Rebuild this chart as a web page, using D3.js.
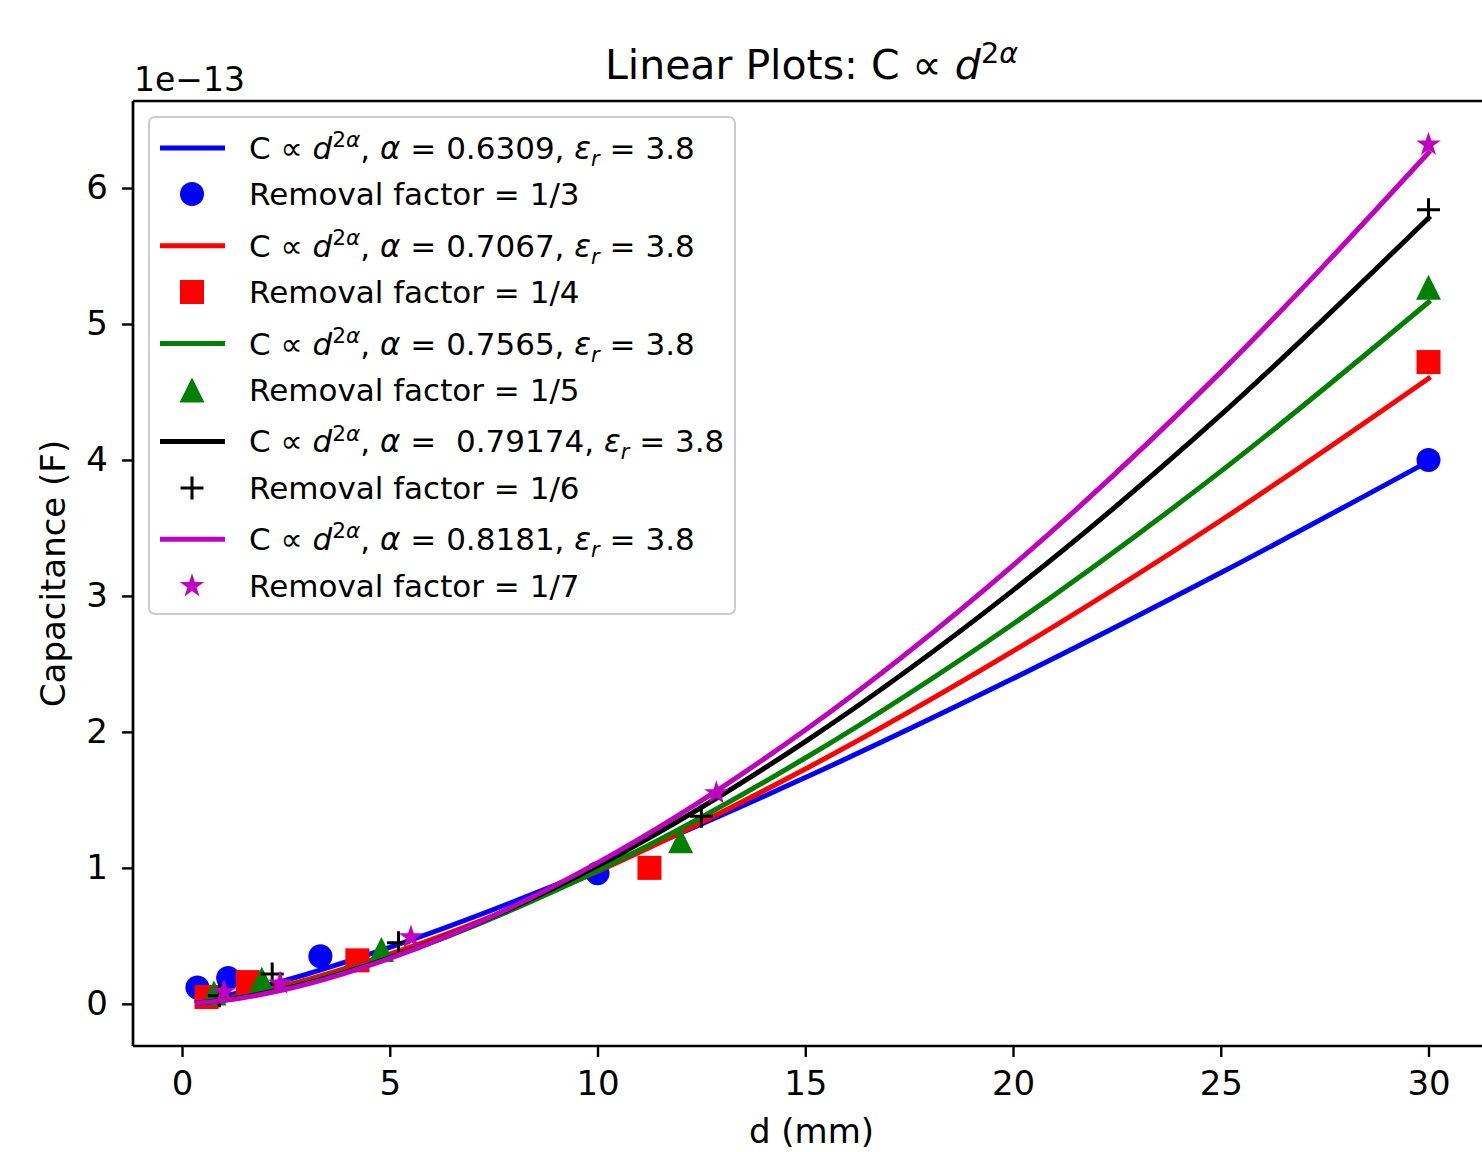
<!DOCTYPE html>
<html>
<head>
<meta charset="utf-8">
<script src="https://cdn.jsdelivr.net/npm/d3@7"></script>
<style>
  body { margin: 0; background: #fff; }
  svg { font-family: "DejaVu Sans", sans-serif; }
</style>
</head>
<body>
<div id="chart"></div>
<script>
const W = 1482, H = 1152;

const dGrid = [0.37, 1, 2.5, 5, 10, 15, 20, 25, 30];
const fit3 = [0.016, 0.055, 0.174, 0.416, 0.998, 1.664, 2.392, 3.170, 3.99];
const fit4 = [0.009, 0.038, 0.137, 0.366, 0.974, 1.727, 2.594, 3.555, 4.60];
const fit5 = [0.007, 0.030, 0.120, 0.343, 0.979, 1.808, 2.794, 3.916, 5.16];
const fit6 = [0.006, 0.027, 0.113, 0.339, 1.015, 1.929, 3.041, 4.331, 5.78];
const fit7 = [0.005, 0.024, 0.107, 0.334, 1.037, 2.014, 3.225, 4.646, 6.26];

// measured points (d in mm, C in units of 1e-13 F)
const d3pts = [0.37, 1.11, 3.33, 10, 30];
const c3pts = [0.12, 0.19, 0.35, 0.96, 4.00];
const d4pts = [0.59, 1.58, 4.22, 11.25, 30];
const c4pts = [0.05, 0.16, 0.32, 1.00, 4.72];
const d5pts = [0.77, 1.92, 4.8, 12, 30];
const c5pts = [0.08, 0.18, 0.40, 1.20, 5.27];
const d6pts = [0.90, 2.17, 5.21, 12.5, 30];
const c6pts = [0.06, 0.22, 0.45, 1.38, 5.84];
const d7pts = [1.01, 2.36, 5.51, 12.86, 30];
const c7pts = [0.09, 0.15, 0.49, 1.55, 6.32];

const alphas = ["0.6309", "0.7067", "0.7565", "\u00a00.79174", "0.8181"];
const factors = ["1/3", "1/4", "1/5", "1/6", "1/7"];
const colors = ["#0000ff", "#ff0000", "#008000", "#000000", "#bf00bf"];
const markers = ["circle", "square", "triangle", "plus", "star"];

const xTicks = [0, 5, 10, 15, 20, 25, 30];
const yTicks = [0, 1, 2, 3, 4, 5, 6];

const series = [
  { fit: fit3, d: d3pts, c: c3pts },
  { fit: fit4, d: d4pts, c: c4pts },
  { fit: fit5, d: d5pts, c: c5pts },
  { fit: fit6, d: d6pts, c: c6pts },
  { fit: fit7, d: d7pts, c: c7pts }
];

const axL = 133, axR = 1490, axT = 101, axB = 1046;

const x = d3.scaleLinear().domain([-1.18, 31.48]).range([axL, axR]);
const y = d3.scaleLinear().domain([-0.31, 6.64]).range([axB, axT]);

const svg = d3.select('#chart').append('svg')
  .attr('width', W).attr('height', H);

svg.append('rect').attr('width', W).attr('height', H).attr('fill', '#fff');

const plot = svg.append('g');

// marker drawing
function drawMarker(g, type, color) {
  if (type === 'circle') {
    g.append('circle').attr('r', 12).attr('fill', color);
  } else if (type === 'square') {
    g.append('rect').attr('x', -12).attr('y', -12).attr('width', 24).attr('height', 24).attr('fill', color);
  } else if (type === 'triangle') {
    g.append('path').attr('d', 'M0,-12.5L12.5,12.5L-12.5,12.5Z').attr('fill', color);
  } else if (type === 'plus') {
    g.append('path').attr('d', 'M-11.5,0H11.5M0,-11.5V11.5').attr('stroke', color).attr('stroke-width', 3).attr('fill', 'none');
  } else if (type === 'star') {
    g.append('path').attr('d', d3.symbol(d3.symbolStar, 185)()).attr('fill', color);
  }
}

const line = d3.line()
  .x(d => x(d[0]))
  .y(d => y(d[1]))
  .curve(d3.curveMonotoneX);

series.forEach((s, i) => {
  plot.append('path')
    .attr('d', line(dGrid.map((d, k) => [d, s.fit[k]])))
    .attr('fill', 'none')
    .attr('stroke', colors[i])
    .attr('stroke-width', 5)
    .attr('stroke-linecap', 'square');

  s.d.forEach((d, k) => {
    const g = plot.append('g').attr('transform', `translate(${x(d)},${y(s.c[k])})`);
    drawMarker(g, markers[i], colors[i]);
  });
});

// axes frame
const frame = svg.append('g').attr('stroke', '#000').attr('stroke-width', 2.7).attr('fill', 'none');
frame.append('line').attr('x1', axL).attr('x2', axL).attr('y1', axT).attr('y2', axB);
frame.append('line').attr('x1', axL).attr('x2', axR).attr('y1', axB).attr('y2', axB);
frame.append('line').attr('x1', axL).attr('x2', axR).attr('y1', axT).attr('y2', axT);
frame.append('line').attr('x1', axR).attr('x2', axR).attr('y1', axT).attr('y2', axB);

const xAxis = svg.append('g')
  .attr('transform', `translate(0,${axB})`)
  .call(d3.axisBottom(x).tickValues(xTicks).tickSize(11).tickPadding(14).tickFormat(d3.format('d')));
const yAxis = svg.append('g')
  .attr('transform', `translate(${axL},0)`)
  .call(d3.axisLeft(y).tickValues(yTicks).tickSize(11).tickPadding(14).tickFormat(d3.format('d')));

[xAxis, yAxis].forEach(a => {
  a.select('.domain').remove();
  a.selectAll('.tick line').attr('stroke', '#000').attr('stroke-width', 2.4);
  a.selectAll('.tick text').attr('font-family', 'DejaVu Sans').attr('font-size', 34).attr('fill', '#000');
});

svg.append('text')
  .attr('x', 134).attr('y', 91)
  .attr('font-size', 33)
  .text('1e\u221213');

svg.append('text')
  .attr('x', (axL + axR) / 2).attr('y', 1143)
  .attr('text-anchor', 'middle').attr('font-size', 34)
  .text('d (mm)');

svg.append('text')
  .attr('transform', `translate(65,${(axT + axB) / 2}) rotate(-90)`)
  .attr('text-anchor', 'middle').attr('font-size', 34)
  .text('Capacitance (F)');

// math-ish label helper: C ∝ d^{2α}; returns the baseline shift still pending
function propto(t, size) {
  const up = size * 0.38;
  t.append('tspan').text('C \u221d ');
  t.append('tspan').attr('font-style', 'italic').text('d');
  t.append('tspan').attr('dy', -up).attr('font-size', size * 0.7).text('2');
  t.append('tspan').attr('font-size', size * 0.7).attr('font-style', 'italic').text('\u03b1');
  return up;
}

const title = svg.append('text')
  .attr('x', (axL + axR) / 2).attr('y', 79)
  .attr('text-anchor', 'middle').attr('font-size', 41);
title.append('tspan').text('Linear Plots: ');
propto(title, 41);

// legend
const lg = svg.append('g');
lg.append('rect')
  .attr('x', 149).attr('y', 117).attr('width', 586).attr('height', 497)
  .attr('rx', 6)
  .attr('fill', '#fff').attr('fill-opacity', 0.8)
  .attr('stroke', '#cccccc').attr('stroke-width', 2);

const fs = 31;
series.forEach((s, i) => {
  const yl = 148 + 97.8 * i;
  const ym = 194 + 98 * i;
  lg.append('line')
    .attr('x1', 160).attr('x2', 225).attr('y1', yl).attr('y2', yl)
    .attr('stroke', colors[i]).attr('stroke-width', 5);
  const t1 = lg.append('text').attr('x', 249).attr('y', yl + 11).attr('font-size', fs);
  const up = propto(t1, fs);
  t1.append('tspan').attr('dy', up).text(', ');
  t1.append('tspan').attr('font-style', 'italic').text('\u03b1');
  t1.append('tspan').text(' = ' + alphas[i] + ', ');
  t1.append('tspan').attr('font-style', 'italic').text('\u03b5');
  t1.append('tspan').attr('dy', 7).attr('font-size', 21).attr('font-style', 'italic').text('r');
  t1.append('tspan').attr('dy', -7).text(' = 3.8');

  const g = lg.append('g').attr('transform', `translate(192,${ym})`);
  drawMarker(g, markers[i], colors[i]);
  lg.append('text').attr('x', 249).attr('y', ym + 11).attr('font-size', fs)
    .text('Removal factor = ' + factors[i]);
});
</script>
</body>
</html>
